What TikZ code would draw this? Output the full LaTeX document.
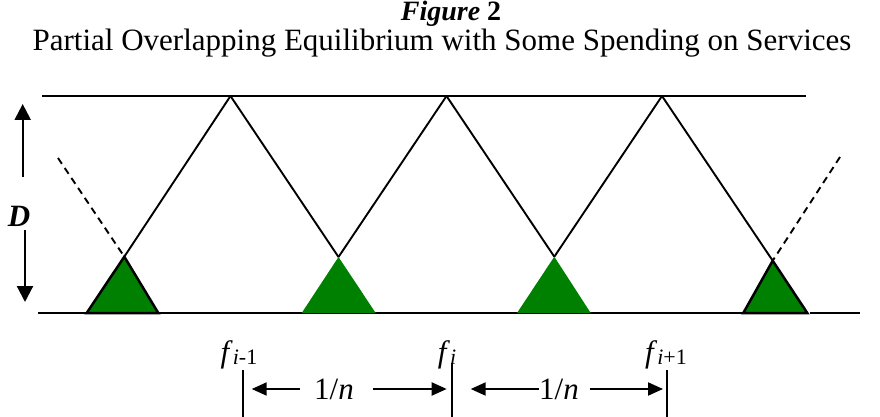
\documentclass[tikz,border=0pt]{standalone}
\usepackage{fontspec}
\setmainfont{Liberation Serif}
\usetikzlibrary{arrows.meta}
\definecolor{fillgreen}{RGB}{0,128,0}
\begin{document}
\begin{tikzpicture}[x=1pt,y=-1pt,
  axis/.style={line width=2pt},
  ray/.style={line width=1.9pt},
  dashray/.style={line width=1.9pt, dash pattern=on 7pt off 5pt},
  greentri/.style={fill=fillgreen},
  outertri/.style={fill=fillgreen, draw=black, line width=2.5pt, line join=miter},
  bigarrow/.style={line width=2.2pt, -{Triangle[width=16pt,length=16pt]}},
  smallarrow/.style={line width=2pt, -{Triangle[width=13pt,length=15pt]}},
  tickmark/.style={line width=2pt},
  lbl/.style={font=\fontsize{31}{33}\selectfont, inner sep=0pt, anchor=base},
  titlelbl/.style={font=\fontsize{28}{30}\selectfont, inner sep=0pt, anchor=base, text height=19pt, text depth=6pt}
]
\useasboundingbox (0,0) rectangle (880,417);

% titles
\node[titlelbl] (title) at (451,21) {\textbf{\textit{Figure} 2}};
\node[lbl, text height=21pt, text depth=6pt] (subtitle) at (442,51) {Partial Overlapping Equilibrium with Some Spending on Services};

% axis lines
\coordinate (topL) at (42,96);
\coordinate (topR) at (806,96);
\coordinate (botL) at (38,313);
\coordinate (botR) at (807,313);
\coordinate (botR2a) at (810,313);
\coordinate (botR2b) at (860,313);
\draw[axis] (topL) -- (topR);
\draw[axis] (botL) -- (botR);
\draw[axis] (botR2a) -- (botR2b);

% peaks
\coordinate (p1) at (230.5,96);
\coordinate (p2) at (446.5,96);
\coordinate (p3) at (662,96);
% apexes
\coordinate (a0) at (124.3,256.7);
\coordinate (a1) at (338.5,257);
\coordinate (a2) at (554.3,256.7);
\coordinate (a3) at (772.7,260.7);
% base points
\coordinate (b0l) at (86.7,313);
\coordinate (b0r) at (158.3,313);
\coordinate (b1l) at (301.7,313);
\coordinate (b1r) at (375.7,313);
\coordinate (b2l) at (517,313);
\coordinate (b2r) at (590.7,313);
\coordinate (b3l) at (743.3,313);
\coordinate (b3r) at (807.3,313);
% dashed ends
\coordinate (d0) at (58,158);
\coordinate (d3) at (840,157);

% rays
\draw[ray] (p1) -- (a0);
\draw[ray] (p1) -- (a1);
\draw[ray] (p2) -- (a1);
\draw[ray] (p2) -- (a2);
\draw[ray] (p3) -- (a2);
\draw[ray] (p3) -- (a3);
\draw[dashray] (d0) -- (a0);
\draw[dashray] (d3) -- (a3);

% green triangles
\fill[greentri] (a1) -- (b1l) -- (b1r) -- cycle;
\fill[greentri] (a2) -- (b2l) -- (b2r) -- cycle;
\draw[outertri] (a0) -- (b0l) -- (b0r) -- cycle;
\draw[outertri] (a3) -- (b3l) -- (b3r) -- cycle;

% D arrows
\node[lbl] (D) at (19,226) {\textbf{\textit{D}}};
\coordinate (du0) at (22.7,177);
\coordinate (du1) at (22.7,104);
\coordinate (dd0) at (25,230);
\coordinate (dd1) at (25,302);
\draw[bigarrow] (du0) -- (du1);
\draw[bigarrow] (dd0) -- (dd1);

% bottom labels
\node[lbl] (fim1) at (239,362) {\textit{f}\raisebox{-2pt}{\fontsize{22}{22}\selectfont\textit{i}-1}};
\node[lbl] (fi) at (447,362) {\textit{f}\raisebox{-2pt}{\fontsize{22}{22}\selectfont\textit{i}}};
\node[lbl] (fip1) at (666,362) {\textit{f}\raisebox{-2pt}{\fontsize{22}{22}\selectfont\textit{i}+1}};

% tick marks
\coordinate (t1a) at (243,370);
\coordinate (t1b) at (243,417);
\coordinate (t2a) at (452,363);
\coordinate (t2b) at (452,417);
\coordinate (t3a) at (667,370);
\coordinate (t3b) at (667,417);
\draw[tickmark] (t1a) -- (t1b);
\draw[tickmark] (t2a) -- (t2b);
\draw[tickmark] (t3a) -- (t3b);

% 1/n arrows
\node[lbl] (n1) at (334,399) {1/\textit{n}};
\node[lbl] (n2) at (559,399) {1/\textit{n}};
\coordinate (r1a) at (300,389);
\coordinate (r1b) at (251.7,389);
\coordinate (r2a) at (373,389);
\coordinate (r2b) at (446.7,389);
\coordinate (r3a) at (539,389);
\coordinate (r3b) at (470.7,389);
\coordinate (r4a) at (590,389);
\coordinate (r4b) at (663,389);
\draw[smallarrow] (r1a) -- (r1b);
\draw[smallarrow] (r2a) -- (r2b);
\draw[smallarrow] (r3a) -- (r3b);
\draw[smallarrow] (r4a) -- (r4b);
\end{tikzpicture}
\end{document}
